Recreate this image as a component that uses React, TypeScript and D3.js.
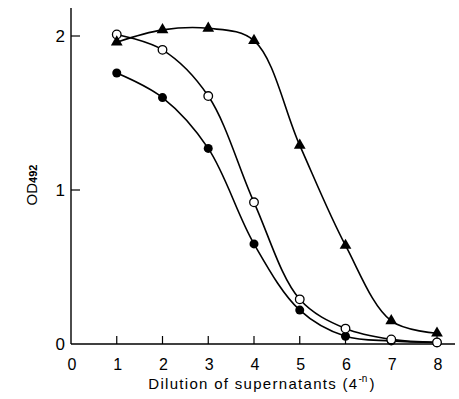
import React, { useEffect, useRef } from "react";
import * as d3 from "d3";

// dilution steps n (4^-n)
const dilutions = [1, 2, 3, 4, 5, 6, 7, 8];
const openCircles = [2.01, 1.91, 1.61, 0.92, 0.29, 0.1, 0.03, 0.01];
const filledCircles = [1.76, 1.6, 1.27, 0.65, 0.22, 0.05, 0.02, 0.01];
const triangles = [1.96, 2.04, 2.05, 1.97, 1.29, 0.64, 0.15, 0.07];
const xTicks = [0, 1, 2, 3, 4, 5, 6, 7, 8];
const yTicks = [0, 1, 2];

const App = () => {
  const ref = useRef<SVGSVGElement>(null);

  useEffect(() => {
    const svg = d3.select(ref.current);
    svg.selectAll("*").remove();

    const x = d3.scaleLinear().domain([0, 8]).range([71, 437]);
    const y = d3.scaleLinear().domain([0, 2]).range([344, 36]);
    const font = "'Liberation Sans', Arial, sans-serif";

    // axes
    svg
      .append("line")
      .attr("x1", x(0))
      .attr("x2", 455)
      .attr("y1", y(0))
      .attr("y2", y(0))
      .attr("stroke", "#000")
      .attr("stroke-width", 1.4);
    svg
      .append("line")
      .attr("x1", x(0))
      .attr("x2", x(0))
      .attr("y1", y(0))
      .attr("y2", 8)
      .attr("stroke", "#000")
      .attr("stroke-width", 1.4);

    // x ticks point inward
    svg
      .append("g")
      .selectAll("line")
      .data(xTicks.filter((d) => d > 0))
      .join("line")
      .attr("x1", (d) => x(d))
      .attr("x2", (d) => x(d))
      .attr("y1", y(0))
      .attr("y2", y(0) - 8)
      .attr("stroke", "#000")
      .attr("stroke-width", 1.2);
    svg
      .append("g")
      .attr("font-family", font)
      .attr("font-size", 16)
      .attr("text-anchor", "middle")
      .selectAll("text")
      .data(xTicks)
      .join("text")
      .attr("x", (d) => x(d) + 1)
      .attr("y", 370)
      .text((d) => String(d));

    svg
      .append("g")
      .selectAll("line")
      .data(yTicks.filter((d) => d > 0))
      .join("line")
      .attr("x1", x(0))
      .attr("x2", x(0) + 9)
      .attr("y1", (d) => y(d))
      .attr("y2", (d) => y(d))
      .attr("stroke", "#000")
      .attr("stroke-width", 1.2);
    svg
      .append("g")
      .attr("font-family", font)
      .attr("font-size", 17)
      .attr("text-anchor", "end")
      .selectAll("text")
      .data(yTicks)
      .join("text")
      .attr("x", 65)
      .attr("y", (d) => y(d))
      .attr("dy", "0.35em")
      .text((d) => String(d));

    // axis titles
    const yt = svg
      .append("text")
      .attr("transform", "translate(37,185) rotate(-90)")
      .attr("font-family", font)
      .attr("font-size", 15)
      .attr("text-anchor", "middle");
    yt.append("tspan").text("OD");
    yt.append("tspan").attr("font-size", 11).attr("font-weight", "bold").text("492");

    const xt = svg
      .append("text")
      .attr("x", 262)
      .attr("y", 389)
      .attr("font-family", font)
      .attr("font-size", 15)
      .attr("letter-spacing", 1.3)
      .attr("text-anchor", "middle");
    xt.append("tspan").text("Dilution of supernatants (4");
    xt.append("tspan").attr("font-size", 10).attr("dy", -7).attr("letter-spacing", 0).text("-n");
    xt.append("tspan").attr("dy", 7).attr("dx", 2).text(")");

    // curves
    const line = d3
      .line<number>()
      .x((_, i) => x(dilutions[i]))
      .y((d) => y(d))
      .curve(d3.curveCatmullRom.alpha(0.5));

    [triangles, openCircles, filledCircles].forEach((s) => {
      svg
        .append("path")
        .attr("d", line(s))
        .attr("fill", "none")
        .attr("stroke", "#000")
        .attr("stroke-width", 1.6);
    });

    // markers
    svg
      .append("g")
      .selectAll("circle")
      .data(filledCircles)
      .join("circle")
      .attr("cx", (_, i) => x(dilutions[i]))
      .attr("cy", (d) => y(d))
      .attr("r", 4.5)
      .attr("fill", "#000");
    svg
      .append("g")
      .selectAll("circle")
      .data(openCircles)
      .join("circle")
      .attr("cx", (_, i) => x(dilutions[i]))
      .attr("cy", (d) => y(d))
      .attr("r", 4.3)
      .attr("fill", "#fff")
      .attr("stroke", "#000")
      .attr("stroke-width", 1.3);
    const tri = d3.symbol(d3.symbolTriangle, 60);
    svg
      .append("g")
      .selectAll("path")
      .data(triangles)
      .join("path")
      .attr("transform", (d, i) => `translate(${x(dilutions[i])},${y(d)})`)
      .attr("d", tri())
      .attr("fill", "#000");
  }, []);

  return (
    <svg
      ref={ref}
      width={459}
      height={399}
      style={{ position: "absolute", left: 0, top: 0, background: "#fff" }}
    />
  );
};

export default App;
